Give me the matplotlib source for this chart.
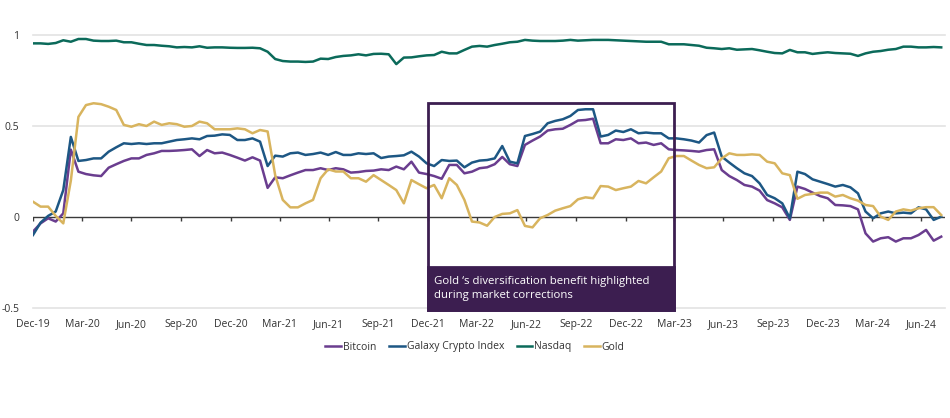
import matplotlib
matplotlib.use("Agg")
import matplotlib.pyplot as plt
import matplotlib.dates as mdates
from matplotlib.patches import Rectangle
import pandas as pd

plt.rcParams['font.family'] = ['Open Sans', 'DejaVu Sans']

# fortnightly observation dates
dates = pd.date_range('2019-12-31', periods=121, freq='14D')

bitcoin = [-0.08, -0.035, -0.007, -0.025, 0.02, 0.37, 0.249, 0.236, 0.229, 0.225,
           0.271, 0.29, 0.308, 0.322, 0.322, 0.341, 0.35, 0.363, 0.363, 0.365,
           0.368, 0.372, 0.335, 0.368, 0.35, 0.354, 0.341, 0.326, 0.31, 0.328,
           0.31, 0.16, 0.218, 0.213, 0.229, 0.244, 0.258, 0.258, 0.268, 0.258,
           0.268, 0.262, 0.244, 0.247, 0.253, 0.255, 0.262, 0.258, 0.277, 0.262,
           0.304, 0.244, 0.236, 0.225, 0.21, 0.286, 0.286, 0.24, 0.249, 0.268,
           0.273, 0.29, 0.33, 0.29, 0.28, 0.396, 0.42, 0.442, 0.475, 0.482,
           0.485, 0.506, 0.53, 0.533, 0.54, 0.405, 0.405, 0.427, 0.423, 0.432,
           0.405, 0.409, 0.396, 0.405, 0.372, 0.368, 0.366, 0.363, 0.359, 0.368,
           0.372, 0.258, 0.225, 0.203, 0.176, 0.167, 0.145, 0.093, 0.075, 0.053,
           -0.016, 0.167, 0.154, 0.134, 0.115, 0.103, 0.066, 0.064, 0.06, 0.042,
           -0.09, -0.135, -0.117, -0.111, -0.135, -0.117, -0.117, -0.099, -0.071, -0.13,
           -0.108]

galaxy = [-0.099, -0.031, 0.006, 0.03, 0.148, 0.44, 0.308, 0.313, 0.322, 0.322,
          0.359, 0.383, 0.405, 0.401, 0.405, 0.401, 0.405, 0.405, 0.414, 0.423,
          0.427, 0.432, 0.427, 0.445, 0.447, 0.454, 0.451, 0.423, 0.423, 0.432,
          0.414, 0.28, 0.337, 0.332, 0.35, 0.354, 0.341, 0.346, 0.354, 0.341,
          0.357, 0.341, 0.341, 0.35, 0.346, 0.35, 0.324, 0.332, 0.335, 0.339,
          0.359, 0.332, 0.295, 0.28, 0.313, 0.308, 0.31, 0.273, 0.299, 0.31,
          0.313, 0.322, 0.39, 0.304, 0.295, 0.445, 0.456, 0.469, 0.515, 0.528,
          0.537, 0.555, 0.588, 0.592, 0.592, 0.442, 0.451, 0.475, 0.467, 0.482,
          0.46, 0.464, 0.46, 0.46, 0.432, 0.432, 0.427, 0.42, 0.409, 0.45,
          0.464, 0.332, 0.299, 0.268, 0.24, 0.225, 0.185, 0.121, 0.103, 0.075,
          -0.007, 0.249, 0.236, 0.207, 0.194, 0.181, 0.167, 0.176, 0.163, 0.13,
          0.03, -0.007, 0.02, 0.03, 0.02, 0.024, 0.02, 0.053, 0.042, -0.016,
          0.002]

nasdaq = [0.954, 0.954, 0.951, 0.956, 0.971, 0.963, 0.978, 0.978, 0.969, 0.967,
          0.967, 0.969, 0.96, 0.96, 0.952, 0.945, 0.945, 0.941, 0.938, 0.932,
          0.934, 0.932, 0.938, 0.93, 0.932, 0.932, 0.93, 0.929, 0.929, 0.93,
          0.927, 0.908, 0.868, 0.857, 0.854, 0.854, 0.852, 0.854, 0.87, 0.868,
          0.879, 0.885, 0.888, 0.894, 0.888, 0.896, 0.897, 0.894, 0.84, 0.876,
          0.877, 0.883, 0.888, 0.89, 0.908, 0.899, 0.899, 0.918, 0.936, 0.94,
          0.936, 0.945, 0.952, 0.96, 0.963, 0.973, 0.969, 0.967, 0.967, 0.967,
          0.969, 0.973, 0.969, 0.971, 0.973, 0.973, 0.973, 0.971, 0.969, 0.967,
          0.965, 0.963, 0.963, 0.963, 0.949, 0.949, 0.949, 0.945, 0.941, 0.93,
          0.927, 0.923, 0.927, 0.919, 0.921, 0.923, 0.916, 0.908, 0.901, 0.899,
          0.918, 0.905, 0.905, 0.896, 0.901, 0.905, 0.901, 0.899, 0.897, 0.885,
          0.899, 0.908, 0.912, 0.919, 0.923, 0.936, 0.936, 0.932, 0.932, 0.934,
          0.932]

gold = [0.084, 0.057, 0.057, 0.006, -0.035, 0.2, 0.55, 0.615, 0.625, 0.62,
        0.606, 0.588, 0.506, 0.496, 0.51, 0.5, 0.524, 0.506, 0.515, 0.51,
        0.496, 0.5, 0.524, 0.515, 0.482, 0.482, 0.482, 0.487, 0.482, 0.46,
        0.478, 0.47, 0.23, 0.094, 0.053, 0.053, 0.075, 0.094, 0.213, 0.262,
        0.25, 0.25, 0.213, 0.213, 0.194, 0.23, 0.203, 0.176, 0.148, 0.075,
        0.203, 0.18, 0.158, 0.176, 0.103, 0.213, 0.176, 0.094, -0.025, -0.03,
        -0.048, 0.0, 0.017, 0.02, 0.038, -0.049, -0.057, -0.007, 0.011, 0.035,
        0.048, 0.06, 0.097, 0.108, 0.103, 0.17, 0.167, 0.148, 0.158, 0.167,
        0.198, 0.185, 0.218, 0.25, 0.323, 0.335, 0.335, 0.31, 0.286, 0.268,
        0.273, 0.322, 0.35, 0.341, 0.341, 0.344, 0.341, 0.304, 0.295, 0.24,
        0.23, 0.1, 0.121, 0.127, 0.134, 0.134, 0.112, 0.121, 0.103, 0.09,
        0.066, 0.06, 0.002, -0.016, 0.03, 0.042, 0.035, 0.048, 0.054, 0.054,
        0.011]

series_names = ['Bitcoin', 'Galaxy Crypto Index', 'Nasdaq', 'Gold']
series_colors = ['#6a3d8f', '#1d5784', '#0b6a5a', '#d8b45e']

tick_dates = pd.date_range('2019-12-31', '2024-06-30', freq='QE')
y_ticks = [-0.5, 0, 0.5, 1]
y_labels = ['-0.5', '0', '0.5', '1']

annotation_text = "Gold \u2018s diversification benefit highlighted\nduring market corrections"
box_start = pd.Timestamp('2021-12-31')
box_end = pd.Timestamp('2023-03-31')

fig = plt.figure(figsize=(9.5, 4.18), dpi=100)
ax = fig.add_axes([33 / 950, 1 - 308 / 418, (945 - 33) / 950, (308 - 35) / 418])

for vals, name, col in zip([bitcoin, galaxy, nasdaq, gold], series_names, series_colors):
    ax.plot(dates, vals, color=col, lw=1.8, label=name, zorder=3, solid_joinstyle='round')

ax.set_xlim(pd.Timestamp('2019-12-31'), pd.Timestamp('2024-08-13'))
ax.set_ylim(-0.5, 1.0)

for s in ax.spines.values():
    s.set_visible(False)

for yv in [-0.5, 0.5, 1.0]:
    ax.axhline(yv, color='#e3e3e3', lw=1.2, zorder=1, clip_on=False)
ax.axhline(0, color='#3a3a3a', lw=1.0, zorder=2)
ax.vlines(tick_dates, -0.022, 0, color='#3a3a3a', lw=1.0, zorder=2)

ax.set_yticks(y_ticks)
ax.set_yticklabels(y_labels)
ax.set_xticks(tick_dates)
ax.set_xticklabels([d.strftime('%b-%y') for d in tick_dates])
ax.tick_params(axis='y', length=0, pad=10, labelsize=7.5, labelcolor='#333333')
ax.tick_params(axis='x', length=0, pad=8, labelsize=7.5, labelcolor='#333333')

# highlighted period box
box_color = '#3c1e50'
ax.add_patch(Rectangle((mdates.date2num(box_start), -0.51),
                       mdates.date2num(box_end) - mdates.date2num(box_start), 0.51 + 0.626,
                       fill=False, edgecolor=box_color, lw=2.0, zorder=4, clip_on=False))
ax.add_patch(Rectangle((mdates.date2num(box_start), -0.51),
                       mdates.date2num(box_end) - mdates.date2num(box_start), 0.235,
                       facecolor=box_color, edgecolor=box_color, lw=2.0, zorder=5, clip_on=False))
ax.text(mdates.date2num(box_start) + 10, -0.392, annotation_text, color='white',
        fontsize=8.2, va='center', ha='left', zorder=6, linespacing=1.4)

fig.legend(loc='center', bbox_to_anchor=(0.5, 1 - 347 / 418), ncol=4, frameon=False,
           fontsize=7.5, handlelength=1.5, handletextpad=0.2, columnspacing=1.2,
           labelcolor='#333333')

fig.savefig('out.png', dpi=100)
